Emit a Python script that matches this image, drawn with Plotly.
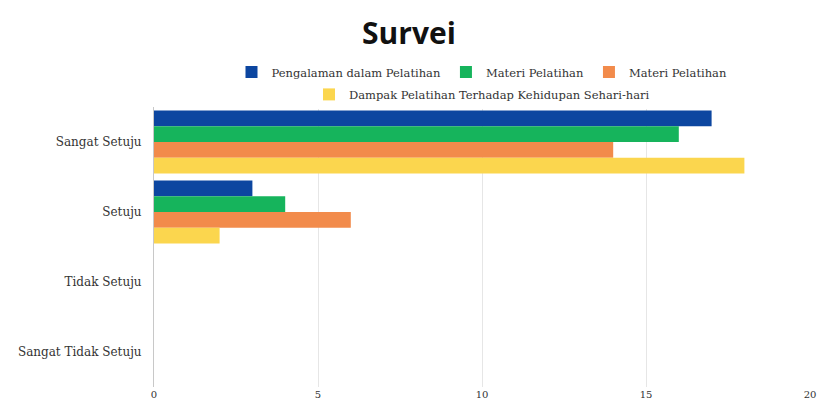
import plotly.graph_objects as go

categories = ["Sangat Setuju", "Setuju", "Tidak Setuju", "Sangat Tidak Setuju"]
series_names = ["Pengalaman dalam Pelatihan", "Materi Pelatihan", "Materi Pelatihan",
                "Dampak Pelatihan Terhadap Kehidupan Sehari-hari"]
pengalaman = [17, 3, 0, 0]
materi1 = [16, 4, 0, 0]
materi2 = [14, 6, 0, 0]
dampak = [18, 2, 0, 0]
x_ticks = [0, 5, 10, 15, 20]

colors = ["#0c46a0", "#16b45c", "#f28b4b", "#fbd64e"]
values = [pengalaman, materi1, materi2, dampak]
legends = ["legend", "legend", "legend", "legend2"]

fig = go.Figure()
for name, vals, col, lg in zip(series_names, values, colors, legends):
    fig.add_trace(go.Bar(y=categories, x=vals, name=name, orientation="h",
                         marker=dict(color=col, line=dict(width=0)), legend=lg))

serif = "DejaVu Serif"
fig.update_layout(
    width=818, height=403,
    margin=dict(l=154, r=8, t=107, b=16),
    paper_bgcolor="white", plot_bgcolor="white",
    barmode="group", bargap=0.1, bargroupgap=0,
    title=dict(text="<b>Survei</b>", x=0.5, xanchor="center", y=0.918, yanchor="middle",
               font=dict(family="Open Sans", size=30, color="#111111")),
    legend=dict(orientation="h", x=0.5, xanchor="center", y=1.125, yanchor="middle",
                font=dict(family=serif, size=11.5, color="#333333"), itemwidth=30,
                traceorder="normal"),
    legend2=dict(orientation="h", x=0.5, xanchor="center", y=1.045, yanchor="middle",
                 font=dict(family=serif, size=11.5, color="#333333")),
    font=dict(family=serif, size=12, color="#333333"),
)
fig.update_xaxes(range=[0, 20], tickvals=x_ticks, showgrid=True, gridcolor="#e6e6e6",
                 zeroline=False, showline=False, ticks="", tickfont=dict(size=10),
                 ticklabelstandoff=0, ticklabeloverflow="allow", automargin=False)
fig.update_yaxes(autorange="reversed", showline=True, linecolor="#c8c8c8", linewidth=1,
                 ticks="", ticklabelstandoff=9, showgrid=False, automargin=False)
fig.write_html("out.html")
